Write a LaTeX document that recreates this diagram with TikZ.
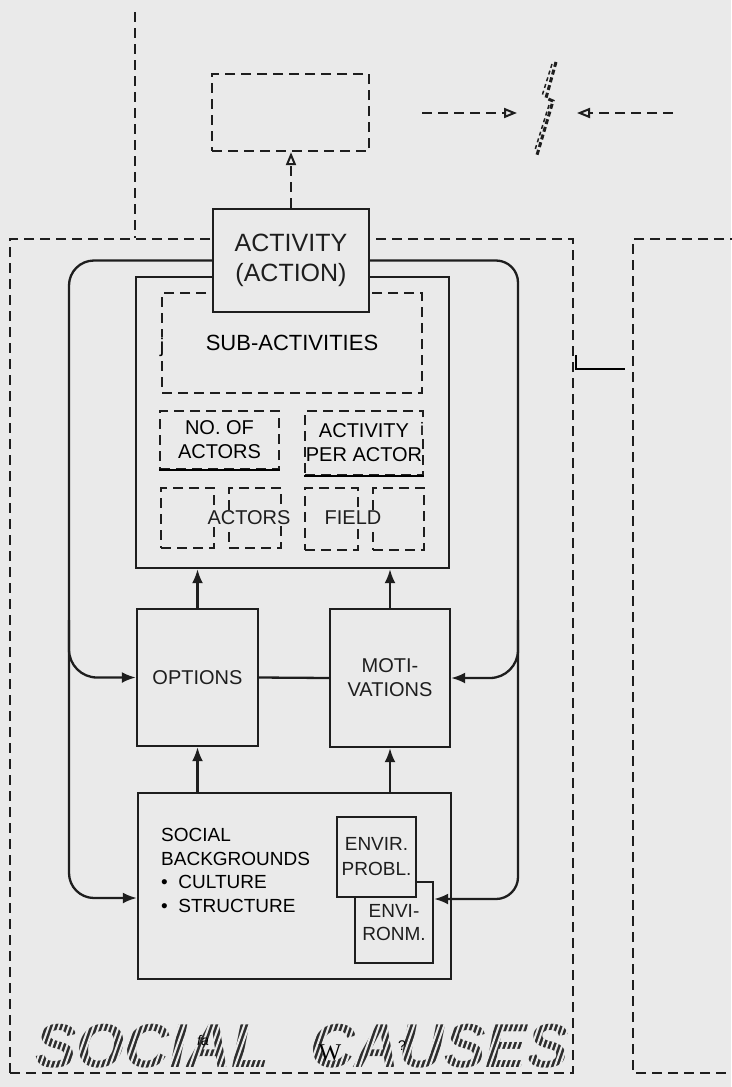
\documentclass[tikz,border=0pt]{standalone}
\usepackage{fontspec}
\setmainfont{Liberation Sans}
\newfontfamily\ocrserif{Liberation Serif}
\usetikzlibrary{arrows.meta, positioning, calc}
\definecolor{scanpaper}{HTML}{EAEAEA}
\definecolor{scanink}{HTML}{1E1E1E}
\definecolor{scanhatch}{HTML}{2E2E2E}
\newcommand{\ocrmark}[3]{%
  \node[fill=scanpaper, inner sep=0.5pt, text=black,
        font=\fontsize{#3}{#3}\selectfont] at (#1) {#2};}

\begin{document}
\begin{tikzpicture}[x=1pt, y=-1pt, font=\fontsize{20}{24}\selectfont, text=scanink,
    solidbox/.style={draw=scanink, line width=2.3pt, fill=scanpaper, inner sep=0pt, align=center},
    dashbox/.style={draw=scanink, line width=2.3pt, dash pattern=on 10pt off 6pt, inner sep=0pt, align=center},
    wire/.style={draw=scanink, line width=2.3pt},
    dashwire/.style={draw=scanink, line width=2.3pt, dash pattern=on 10pt off 6pt},
    fillhead/.style={-{Latex[length=14pt, width=11pt]}},
    hollowhead/.style={-{Triangle[open, length=13pt, width=10pt, line width=2pt]}}]
  \fill[scanpaper] (0,0) rectangle (731,1087);
  \useasboundingbox (0,0) rectangle (731,1087);

  \node[dashbox, minimum width=157pt, minimum height=77pt] (conseq) at (290.5,112.5) {};
  \node[dashbox, minimum width=563pt, minimum height=834pt] (frame) at (291.5,656) {};
  \draw[dashwire] (135,12) -- (135,12 |- frame.north);
  \draw[dashwire] (740,239) -| (633,1073) -- (740,1073);
  \draw[black, line width=1.6pt] (576,355) |- (625,369);

  \coordinate (lfrom) at (422,113);
  \coordinate (lto) at (517,113);
  \coordinate (rfrom) at (673,113);
  \coordinate (rto) at (577,113);
  \draw[dashwire, hollowhead] (lfrom) -- (lto);
  \draw[dashwire, hollowhead] (rfrom) -- (rto);
  \draw[scanink, line width=3pt, dash pattern=on 5pt off 3pt] (556,62) -- (546,98) -- (553,101) -- (537,155);
  \draw[scanink, line width=1.5pt, dash pattern=on 4pt off 3pt] (552,64) -- (542,96);
  \draw[scanink, line width=1.5pt, dash pattern=on 4pt off 3pt] (549,105) -- (535,150);

  \node[draw=scanink, line width=2.3pt, minimum width=313pt, minimum height=291pt] (inner) at (292.5,422.5) {};
  \node[dashbox, minimum width=260pt, minimum height=100pt, font=\fontsize{22}{26}\selectfont, text=black] (sub) at (292,343) {SUB-ACTIVITIES};
  \ocrmark{162,347}{j}{20}
  \node[dashbox, minimum width=119pt, minimum height=58pt, text=black] (noact) at (219.5,440) {NO. OF\\ACTORS};
  \draw[black, line width=2pt] (noact.south west) -- (noact.south east);
  \node[dashbox, minimum width=118pt, minimum height=64pt, text=black] (peract) at (364,443) {ACTIVITY\\PER ACTOR};
  \draw[black, line width=2pt] (peract.south west) -- (peract.south east);
  \ocrmark{422,429}{i}{18}

  \node[dashbox, minimum width=53pt, minimum height=60pt] (actl) at (187.5,518) {};
  \node[dashbox, minimum width=52pt, minimum height=60pt] (actr) at (255,518) {};
  \node[fill=scanpaper, inner sep=1pt] (actors) at (249,518) {ACTORS};
  \node[dashbox, minimum width=53pt, minimum height=62pt] (fldl) at (331.5,519) {};
  \node[dashbox, minimum width=51pt, minimum height=62pt] (fldr) at (398.5,519) {};
  \node[fill=scanpaper, inner sep=1pt] (field) at (353,518) {FIELD};

  \node[solidbox, minimum width=156pt, minimum height=103pt, font=\fontsize{25}{30}\selectfont] (act) at (291,260.5) {ACTIVITY\\(ACTION)};
  \draw[dashwire, hollowhead] (act.north) -- (act.north |- conseq.south);

  \node[solidbox, minimum width=121pt, minimum height=137pt] (opt) at (197.5,677.5) {OPTIONS};
  \node[solidbox, minimum width=120pt, minimum height=138pt] (mot) at (390,678) {MOTI-\\VATIONS};
  \node[solidbox, minimum width=313pt, minimum height=186pt] (soc) at (294.5,886) {};
  \node[anchor=west, align=left, inner sep=0pt, text=black, font=\fontsize{19}{23.7}\selectfont] (soctxt) at (161,870.5)
    {SOCIAL\\BACKGROUNDS\\\textbullet\ \ CULTURE\\\textbullet\ \ STRUCTURE};
  \node[solidbox, minimum width=78pt, minimum height=81pt, font=\fontsize{19}{23}\selectfont] (envm) at (394,922.5) {ENVI-\\RONM.};
  \node[solidbox, minimum width=79pt, minimum height=80pt, font=\fontsize{19}{25}\selectfont] (envp) at (376.5,857) {ENVIR.\\PROBL.};

  \draw[wire, rounded corners=25pt, fillhead] (act.west) -| (69,898) -- ([yshift=-12pt]soc.west);
  \draw[wire, rounded corners=28pt, fillhead] (69,620) |- (opt.west);
  \draw[wire, rounded corners=22pt, fillhead] (act.east) -| (518,899) -- ([yshift=23.5pt]envm.east);
  \draw[wire, rounded corners=28pt, fillhead] (518,620) |- (mot.east);
  \draw[wire, fillhead] (opt.north) -- (opt.north |- inner.south);
  \draw[wire, fillhead] (mot.north) -- (mot.north |- inner.south);
  \draw[wire, fillhead] (opt.south |- soc.north) -- (opt.south);
  \draw[wire, fillhead] (mot.south |- soc.north) -- (mot.south);
  \draw[wire] (opt.east) -- (mot.west);

  \node[anchor=west, inner sep=0pt, text=scanhatch, font=\fontsize{62}{62}\selectfont\bfseries\itshape] (socw) at (35,1046) {SOCIAL};
  \node[anchor=west, inner sep=0pt, text=scanhatch, font=\fontsize{62}{62}\selectfont\bfseries\itshape] (causew) at (310,1046) {CAUSES};
  \begin{scope}
    \clip (30,1008) rectangle (570,1071);
    \foreach \k in {0,5,...,600}
      \draw[scanpaper, line width=2pt] (\k,1080) -- ++(28,-80);
  \end{scope}
  \node[text=black, inner sep=0pt, font=\fontsize{14}{14}\selectfont\itshape] (ocrfa) at (203,1040) {fa};
  \node[text=black, inner sep=0pt, font=\fontsize{24}{24}\ocrserif] (ocrw) at (330,1053) {W};
  \node[text=black, inner sep=0pt, font=\fontsize{14}{14}\selectfont] (ocrq) at (402,1046) {?};
\end{tikzpicture}
\end{document}
